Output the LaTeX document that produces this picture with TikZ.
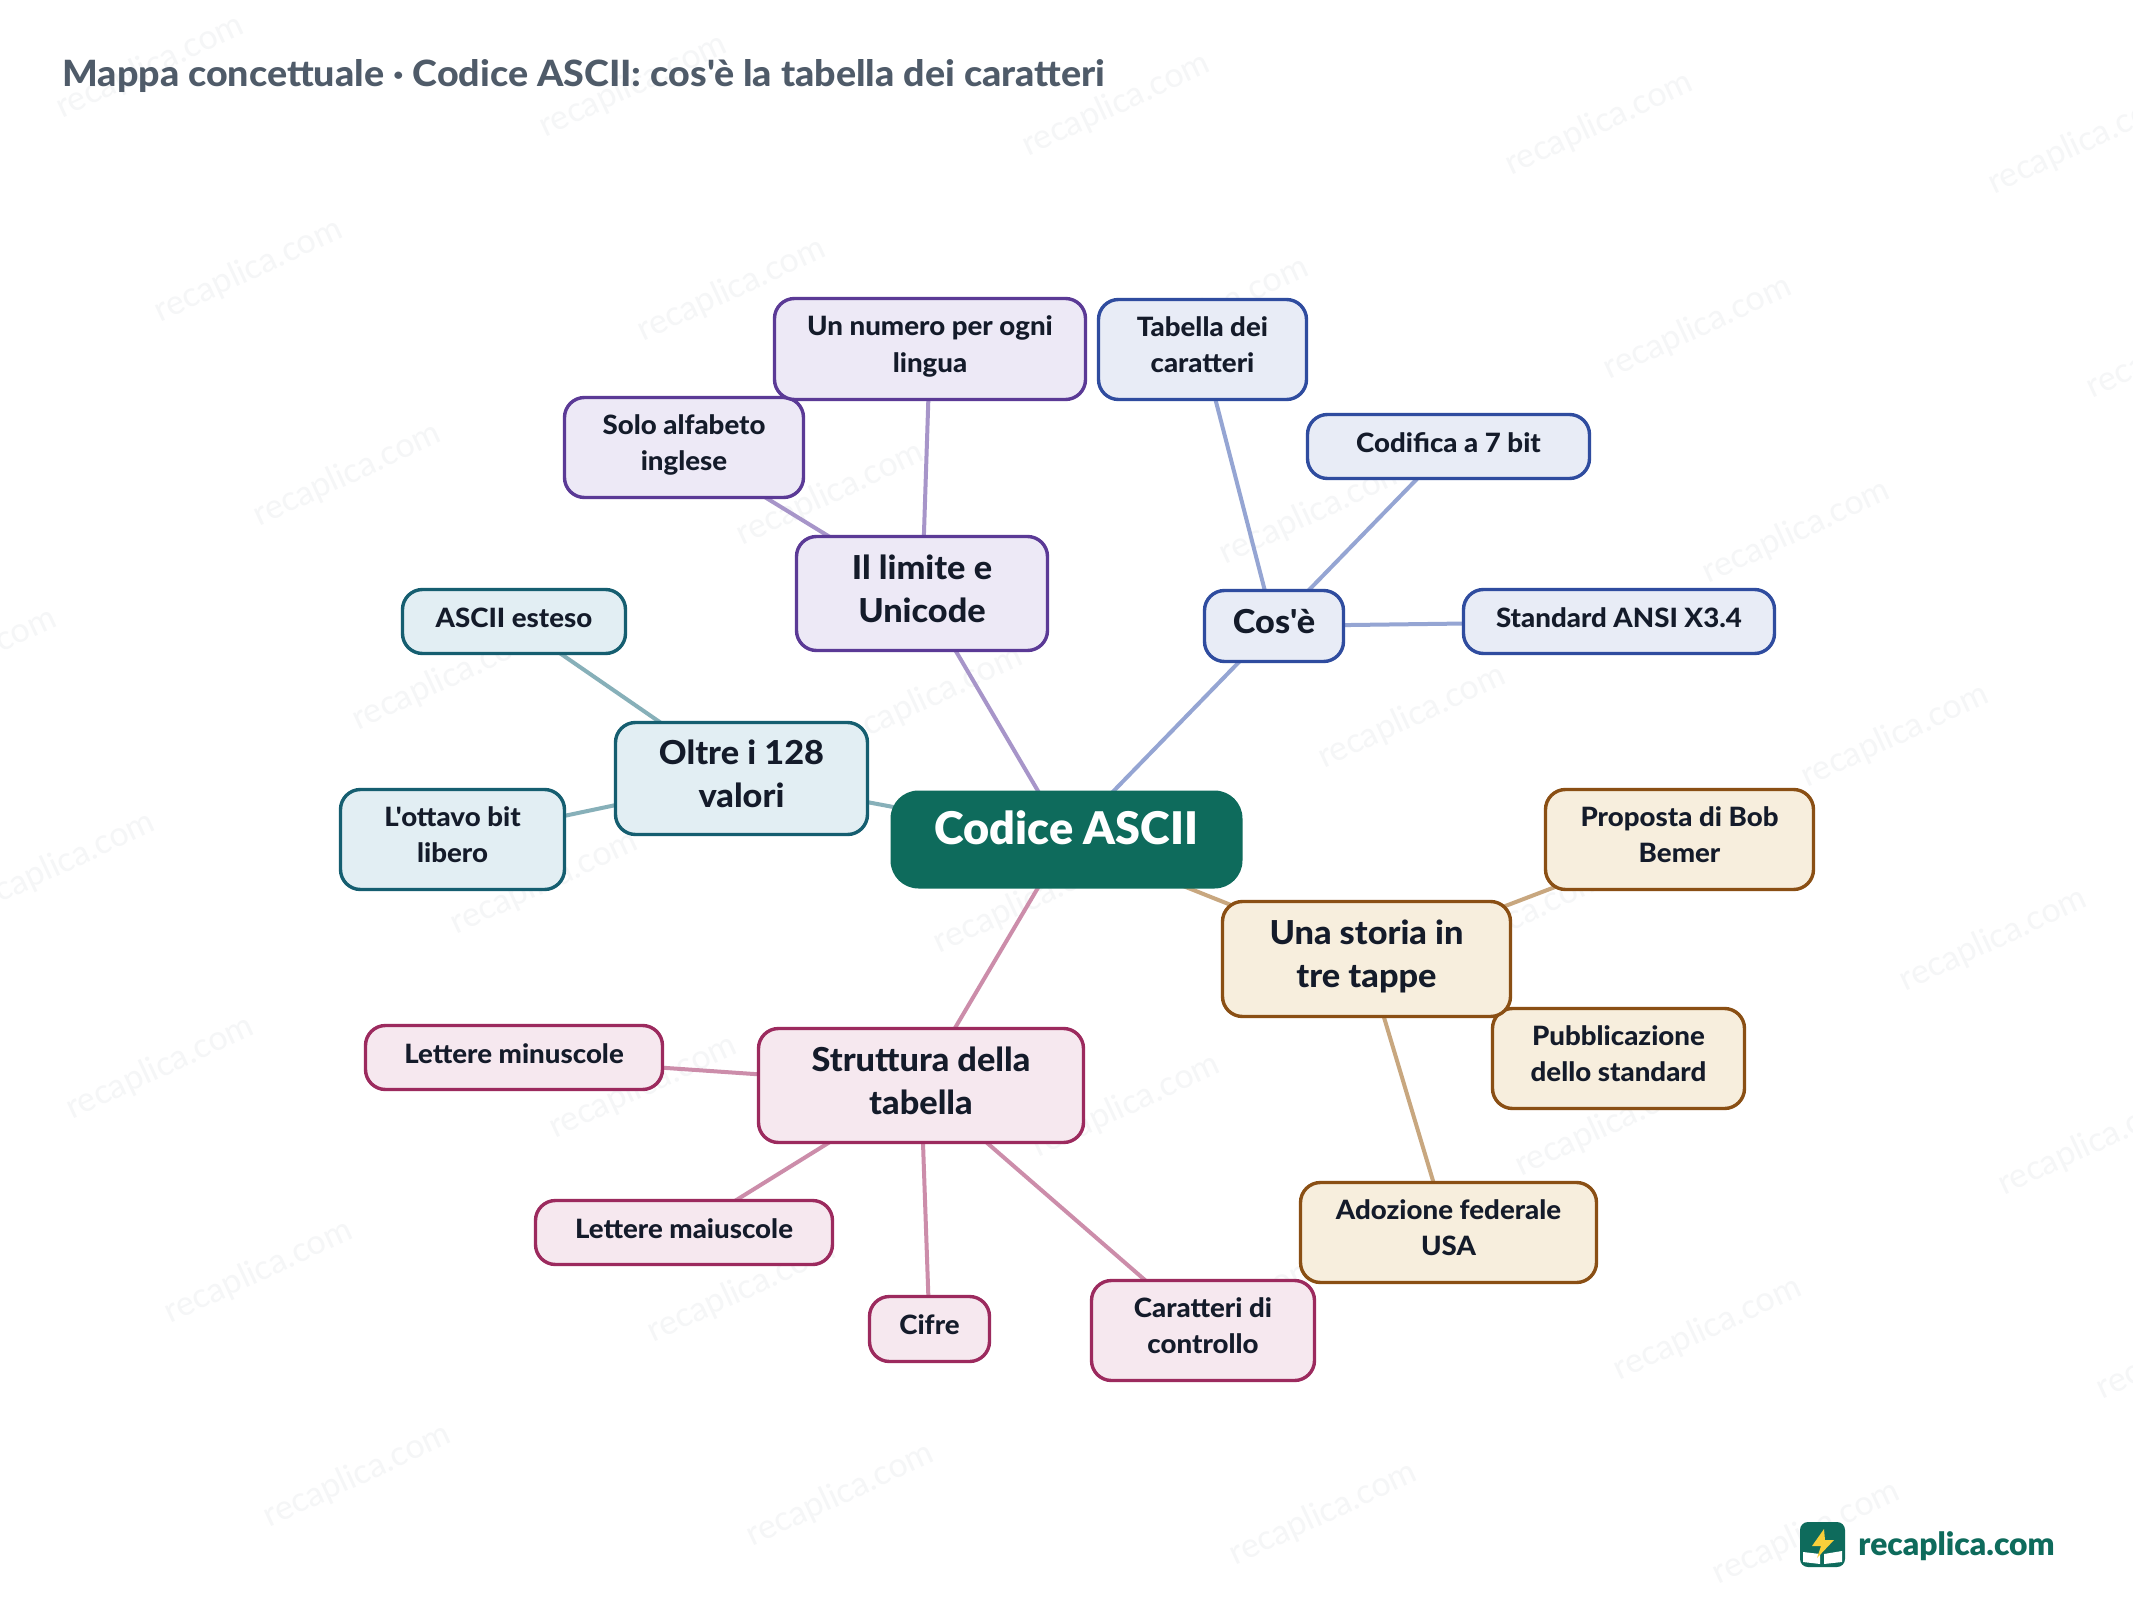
\documentclass[tikz,border=0pt]{standalone}
\usepackage{fontspec}
\setmainfont{Lato}
\newfontfamily\lblack{Lato Black}
\newfontfamily\lheavy{Lato Heavy}[FakeStretch=1.04]
\usetikzlibrary{backgrounds}
\definecolor{ink}{HTML}{141B2A}
\definecolor{titlec}{HTML}{4F5B69}
\definecolor{rootc}{HTML}{0E6B5C}
\definecolor{purF}{HTML}{EDE9F6}\definecolor{purD}{HTML}{5B3A96}\definecolor{purE}{HTML}{A795C9}
\definecolor{bluF}{HTML}{E8ECF6}\definecolor{bluD}{HTML}{2F4C9F}\definecolor{bluE}{HTML}{95A5D3}
\definecolor{teaF}{HTML}{E2EEF3}\definecolor{teaD}{HTML}{155E70}\definecolor{teaE}{HTML}{87B0B9}
\definecolor{oraF}{HTML}{F7EEDD}\definecolor{oraD}{HTML}{8A4F14}\definecolor{oraE}{HTML}{C8A77F}
\definecolor{pinF}{HTML}{F6E8EF}\definecolor{pinD}{HTML}{9C2A5E}\definecolor{pinE}{HTML}{CC8DAA}
\definecolor{wmark}{HTML}{F5F6F7}
\definecolor{boltc}{HTML}{F9CF3A}
\tikzset{
 x=0.5pt,y=-0.5pt,
 mbox/.style={rounded corners=10pt,line width=1.7pt,inner sep=0pt,align=center,text=ink},
 child/.style={mbox,font=\fontsize{13.3}{18}\lheavy},
 hub/.style={mbox,font=\fontsize{16.5}{21.5}\lheavy},
 rootbox/.style={rounded corners=14pt,inner sep=0pt,fill=rootc,text=white,font=\fontsize{22.5}{24}\lblack},
 pur/.style={fill=purF,draw=purD},
 blu/.style={fill=bluF,draw=bluD},
 tea/.style={fill=teaF,draw=teaD},
 ora/.style={fill=oraF,draw=oraD},
 pin/.style={fill=pinF,draw=pinD},
 link/.style={line width=2pt},
 wm/.style={rotate=25,text=wmark,font=\fontsize{17}{18}\selectfont,inner sep=0pt},
}
% name, style, x1, y1, x2, y2, raise(pt), text
\newcommand{\mm}[8]{%
 \pgfmathsetmacro{\cxx}{(#3+#5)/2}\pgfmathsetmacro{\cyy}{(#4+#6)/2}%
 \pgfmathsetmacro{\www}{(#5-#3-1)*0.5}\pgfmathsetmacro{\hhh}{(#6-#4-1)*0.5}%
 \node[#2,minimum width=\www pt,minimum height=\hhh pt] (#1) at (\cxx,\cyy)
  {\raisebox{#7pt}[0pt][0pt]{\begin{tabular}{@{}c@{}}#8\end{tabular}}};}
\begin{document}
\begin{tikzpicture}
\useasboundingbox (0,0) rectangle (2133,1600);
\mm{n1}{child,pur}{564}{397}{804}{498}{-2.5}{Solo alfabeto\\inglese}
\mm{n2}{child,pur}{774}{298}{1086}{400}{-2.5}{Un numero per ogni\\lingua}
\mm{l}{hub,pur}{796}{536}{1048}{651}{-4}{Il limite e\\Unicode}
\mm{b1}{child,blu}{1098}{299}{1307}{400}{-2.5}{Tabella dei\\caratteri}
\mm{b2}{child,blu}{1307}{414}{1590}{479}{-2.8}{Codifica a 7 bit}
\mm{b3}{child,blu}{1463}{589}{1775}{654}{-2.8}{Standard ANSI X3.4}
\mm{c}{hub,blu}{1204}{590}{1344}{662}{-4}{Cos'è}
\mm{t1}{child,tea}{402}{589}{626}{654}{-2.8}{ASCII esteso}
\mm{t2}{child,tea}{340}{789}{565}{890}{-2.5}{L'ottavo bit\\libero}
\mm{o}{hub,tea}{615}{722}{868}{835}{-4}{Oltre i 128\\valori}
\mm{a1}{child,ora}{1545}{789}{1814}{890}{-2.5}{Proposta di Bob\\Bemer}
\mm{a2}{child,ora}{1492}{1008}{1745}{1109}{-2.5}{Pubblicazione\\dello standard}
\mm{a3}{child,ora}{1300}{1182}{1597}{1283}{-2.5}{Adozione federale\\USA}
\mm{s}{hub,ora}{1222}{901}{1511}{1017}{-3.7}{Una storia in\\tre tappe}
\mm{p1}{child,pin}{365}{1025}{663}{1090}{-2.8}{Lettere minuscole}
\mm{p2}{child,pin}{535}{1200}{833}{1265}{-2.8}{Lettere maiuscole}
\mm{p3}{child,pin}{869}{1296}{990}{1362}{-2.8}{Cifre}
\mm{p4}{child,pin}{1091}{1280}{1315}{1381}{-2.5}{Caratteri di\\controllo}
\mm{st}{hub,pin}{758}{1028}{1084}{1143}{-4}{Struttura della\\tabella}
\mm{root}{rootbox}{890}{790}{1243}{889}{-2.8}{Codice ASCII}
\node[anchor=base west,inner sep=0pt,text=titlec,font=\fontsize{18.1}{20}\lheavy] (title) at (62,87) {Mappa concettuale · Codice ASCII: cos'è la tabella dei caratteri};
% logo
\node[anchor=base west,inner sep=0pt,text=rootc,font=\fontsize{15.9}{18}\lblack] (brand) at (1858,1555) {recaplica.com};
\fill[rootc,rounded corners=4pt] (1800,1522) rectangle (1845,1567);
\fill[white] (1803,1552) -- (1820,1554) -- (1820,1564) -- (1803,1562) -- cycle;
\fill[white] (1824,1554) -- (1842,1551) -- (1842,1562) -- (1824,1564) -- cycle;
\fill[boltc] (1824,1529) -- (1812,1546) -- (1821,1546) -- (1817,1558) -- (1834,1540) -- (1825,1540) -- cycle;
\begin{pgfonlayer}{background}
\fill[white] (0,0) rectangle (2133,1600);
\begin{scope}
\clip (0,0) rectangle (2133,1600);
\foreach \i in {-3,...,5}{\foreach \j in {-1,...,8}{
 \pgfmathsetmacro{\wx}{150+483*\i+98.6*\j}
 \pgfmathsetmacro{\wy}{67+19*\i+204*\j}
 \pgfmathtruncatemacro{\wshow}{and(and(\wx>-130,\wx<2263),and(\wy>-70,\wy<1670))}
 \ifnum\wshow=1
 \node[wm] (wm\i\j) at (\wx,\wy) {recaplica.com};
 \fi
}}
\end{scope}
\foreach \a/\b/\e in {root/l/purE,l/n1/purE,l/n2/purE,root/c/bluE,c/b1/bluE,c/b2/bluE,c/b3/bluE,root/o/teaE,o/t1/teaE,o/t2/teaE,root/s/oraE,s/a1/oraE,s/a2/oraE,s/a3/oraE,root/st/pinE,st/p1/pinE,st/p2/pinE,st/p3/pinE,st/p4/pinE}
 {\draw[link,draw=\e] (\a.center) -- (\b.center);}
\end{pgfonlayer}
\end{tikzpicture}
\end{document}
